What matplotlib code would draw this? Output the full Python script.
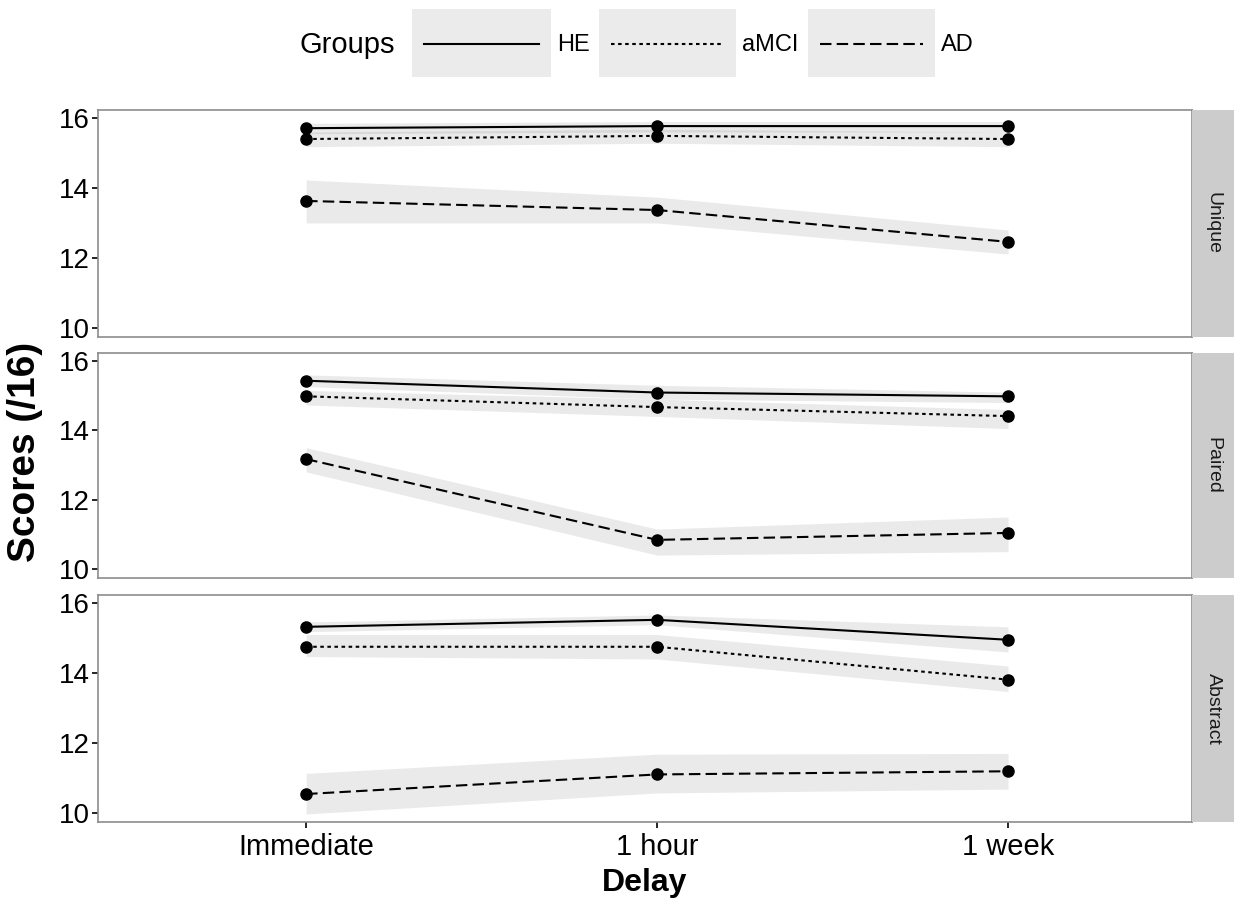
import numpy as np
import matplotlib
matplotlib.use("Agg")
import matplotlib.pyplot as plt
from matplotlib.patches import Rectangle

plt.rcParams['font.family'] = ['Liberation Sans', 'DejaVu Sans']

delays = ["Immediate", "1 hour", "1 week"]
groups = ["HE", "aMCI", "AD"]
panels = ["Unique", "Paired", "Abstract"]

# mean scores and ribbon limits per panel, per group
unique_mean = {"HE": [15.71, 15.77, 15.77], "aMCI": [15.40, 15.49, 15.40], "AD": [13.63, 13.37, 12.46]}
unique_lo = {"HE": [15.55, 15.60, 15.60], "aMCI": [15.18, 15.28, 15.18], "AD": [13.00, 13.00, 12.11]}
unique_hi = {"HE": [15.85, 15.90, 15.90], "aMCI": [15.60, 15.68, 15.60], "AD": [14.23, 13.74, 12.80]}

paired_mean = {"HE": [15.43, 15.09, 14.98], "aMCI": [14.98, 14.67, 14.41], "AD": [13.17, 10.84, 11.04]}
paired_lo = {"HE": [15.26, 14.90, 14.80], "aMCI": [14.73, 14.40, 14.05], "AD": [12.80, 10.40, 10.50]}
paired_hi = {"HE": [15.60, 15.30, 15.10], "aMCI": [15.15, 14.90, 14.60], "AD": [13.50, 11.15, 11.50]}

abstract_mean = {"HE": [15.32, 15.52, 14.95], "aMCI": [14.75, 14.75, 13.81], "AD": [10.54, 11.10, 11.19]}
abstract_lo = {"HE": [15.18, 15.38, 14.60], "aMCI": [14.47, 14.40, 13.47], "AD": [9.97, 10.57, 10.68]}
abstract_hi = {"HE": [15.46, 15.66, 15.32], "aMCI": [15.10, 15.10, 14.20], "AD": [11.13, 11.68, 11.70]}

means = [unique_mean, paired_mean, abstract_mean]
lows = [unique_lo, paired_lo, abstract_lo]
highs = [unique_hi, paired_hi, abstract_hi]

styles = {"HE": "-", "aMCI": (0, (1.7, 1.7)), "AD": (0, (5.5, 2.5))}

W, H = 1234, 900
fig = plt.figure(figsize=(W / 100, H / 100), dpi=100)
x = np.arange(1, len(delays) + 1)

tops = [110, 353, 595]
bottoms = [337, 578, 822]
left, right = 98, 1192

axes = []
for i, name in enumerate(panels):
    ax = fig.add_axes([left / W, 1 - bottoms[i] / H, (right - left) / W, (bottoms[i] - tops[i]) / H])
    for g in groups:
        ax.fill_between(x, lows[i][g], highs[i][g], color="0.5", alpha=0.16, linewidth=0)
    for g in groups:
        ax.plot(x, means[i][g], linestyle=styles[g], color="black", linewidth=1.5,
                marker="o", markersize=8, zorder=3)
    ax.set_xlim(0.407, 3.524)
    ax.set_ylim(9.74, 16.23)
    ax.set_yticks([10, 12, 14, 16])
    ax.tick_params(axis="both", length=4, width=1.2, color="black", labelcolor="black", pad=2)
    ax.tick_params(axis="y", labelsize=20)
    ax.tick_params(axis="x", labelsize=21, pad=4)
    for s in ax.spines.values():
        s.set_color("#8c8c8c")
        s.set_linewidth(1.2)
    ax.set_xticks(x)
    if i < 2:
        ax.tick_params(axis="x", bottom=False, labelbottom=False)
    else:
        ax.set_xticklabels(delays)
    # facet strip
    sax = fig.add_axes([right / W, 1 - bottoms[i] / H, (W - right) / W, (bottoms[i] - tops[i]) / H])
    sax.set_facecolor("#cccccc")
    sax.set_xticks([])
    sax.set_yticks([])
    for s in sax.spines.values():
        s.set_visible(False)
    sax.text(0.5, 0.5, name, rotation=-90, ha="center", va="center", fontsize=14, color="#1a1a1a",
             transform=sax.transAxes)
    axes.append(ax)

axes[2].set_xlabel("Delay", fontsize=23, fontweight="bold", labelpad=5)
fig.text(25 / W, 1 - 452 / H, "Scores (/16)", rotation=90, ha="center", va="center",
         fontsize=28, fontweight="bold")

# legend drawn in its own strip at the top
lax = fig.add_axes([0, 1 - 90 / H, 1, 90 / H])
lax.set_xlim(0, W)
lax.set_ylim(90, 0)
lax.axis("off")
lax.text(347, 45, "Groups", ha="center", va="center", fontsize=21)
key_x = [412, 599, 808]
key_w = [139, 137, 127]
for g, kx, kw in zip(groups, key_x, key_w):
    lax.add_patch(Rectangle((kx, 9), kw, 68, facecolor="#ebebeb", edgecolor="none"))
    lax.plot([kx + 12, kx + kw - 12], [44, 44], linestyle=styles[g], color="black", linewidth=1.5)
    lax.text(kx + kw + 6, 45, g, ha="left", va="center", fontsize=17)

fig.savefig("out.png", dpi=100)
